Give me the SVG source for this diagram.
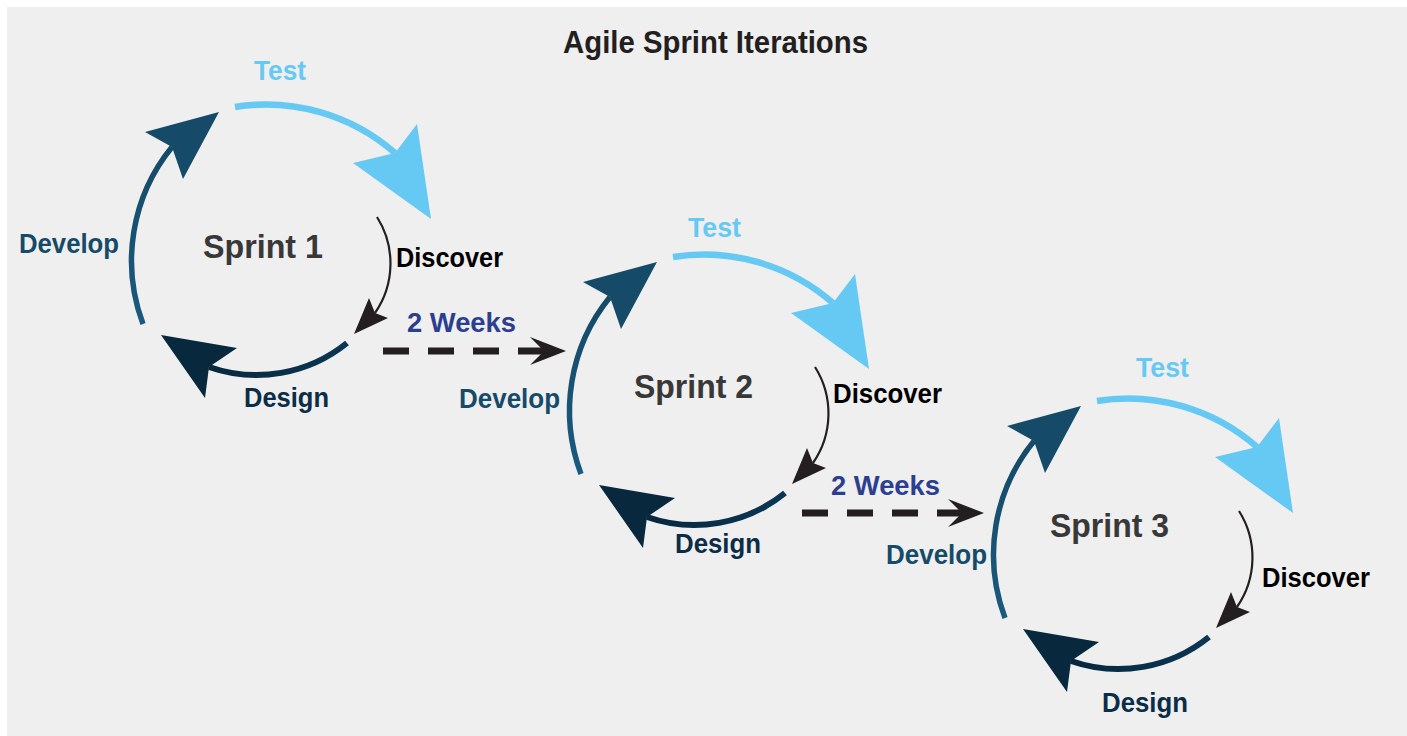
<svg xmlns="http://www.w3.org/2000/svg" xmlns:xlink="http://www.w3.org/1999/xlink" width="1407" height="736" viewBox="0 0 1407 736">
<style>
  text { font-family: "Liberation Sans", Arial, sans-serif; font-weight: bold; }
  .title { font-size: 32px; fill: #231f20; }
  .sprint { font-size: 33px; fill: #383838; }
  .lbl { font-size: 27.5px; }
  .t-test { fill: #66c9f3; }
  .t-dev { fill: #154a68; }
  .t-des { fill: #0b2d47; }
  .t-disc { fill: #000000; }
  .t-weeks { fill: #2b3e90; }
  .arc { fill: none; stroke-linecap: butt; }
  .dash { fill: none; stroke: #231f20; stroke-width: 7; stroke-dasharray: 26 19; }
  .head { fill: #231f20; }
</style>
<defs>
  <linearGradient id="gDev" gradientUnits="userSpaceOnUse" x1="0" y1="324" x2="0" y2="147">
    <stop offset="0" stop-color="#1a5a7e"/>
    <stop offset="1" stop-color="#154a68"/>
  </linearGradient>
  <linearGradient id="gDes" gradientUnits="userSpaceOnUse" x1="347" y1="0" x2="209" y2="0">
    <stop offset="0" stop-color="#0b3654"/>
    <stop offset="1" stop-color="#07283d"/>
  </linearGradient>
  <g id="cycle">
    <path class="arc" d="M235 107 A196 196 0 0 1 395 153" stroke="#66c9f3" stroke-width="6.5"/>
    <polygon points="417,124 431,219 353,163 395,153" fill="#66c9f3"/>
    <path class="arc" d="M143 324 A180 180 0 0 1 172 147" stroke="url(#gDev)" stroke-width="5.5"/>
    <polygon points="145,132 219,112 183,179 172,147" fill="#154a68"/>
    <path class="arc" d="M347 343 A144 144 0 0 1 209 367" stroke="url(#gDes)" stroke-width="6"/>
    <polygon points="161,335 237,348 209,367 205,398" fill="#07283d"/>
    <path class="arc" d="M377 217 A87 87 0 0 1 375 313" stroke="#231f20" stroke-width="2.2"/>
    <polygon points="369,298 375,313 388,318 354,334" fill="#231f20"/>
  </g>
</defs>
<rect x="0" y="0" width="1407" height="736" fill="#ffffff"/>
<rect x="7" y="7" width="1400" height="729" fill="#efefef"/>
<text class="title" x="563" y="53" textLength="305" lengthAdjust="spacingAndGlyphs">Agile Sprint Iterations</text>

<g id="sprint1">
  <use xlink:href="#cycle" href="#cycle"/>
  <text class="sprint" x="203" y="258" textLength="120" lengthAdjust="spacingAndGlyphs">Sprint 1</text>
  <text class="lbl t-test" x="254" y="80" textLength="52" lengthAdjust="spacingAndGlyphs">Test</text>
  <text class="lbl t-dev" x="19" y="253" textLength="100" lengthAdjust="spacingAndGlyphs">Develop</text>
  <text class="lbl t-disc" x="396" y="267" textLength="107" lengthAdjust="spacingAndGlyphs">Discover</text>
  <text class="lbl t-des" x="244" y="407" textLength="85" lengthAdjust="spacingAndGlyphs">Design</text>
</g>

<g id="sprint2">
  <use xlink:href="#cycle" href="#cycle" transform="translate(438,150)"/>
  <text class="sprint" x="634" y="398" textLength="119" lengthAdjust="spacingAndGlyphs">Sprint 2</text>
  <text class="lbl t-test" x="688" y="237" textLength="53" lengthAdjust="spacingAndGlyphs">Test</text>
  <text class="lbl t-dev" x="459" y="408" textLength="101" lengthAdjust="spacingAndGlyphs">Develop</text>
  <text class="lbl t-disc" x="833" y="403" textLength="109" lengthAdjust="spacingAndGlyphs">Discover</text>
  <text class="lbl t-des" x="675" y="553" textLength="86" lengthAdjust="spacingAndGlyphs">Design</text>
</g>

<g id="sprint3">
  <use xlink:href="#cycle" href="#cycle" transform="translate(862,294)"/>
  <text class="sprint" x="1050" y="537" textLength="119" lengthAdjust="spacingAndGlyphs">Sprint 3</text>
  <text class="lbl t-test" x="1136" y="377" textLength="53" lengthAdjust="spacingAndGlyphs">Test</text>
  <text class="lbl t-dev" x="886" y="564" textLength="101" lengthAdjust="spacingAndGlyphs">Develop</text>
  <text class="lbl t-disc" x="1262" y="587" textLength="108" lengthAdjust="spacingAndGlyphs">Discover</text>
  <text class="lbl t-des" x="1102" y="712" textLength="86" lengthAdjust="spacingAndGlyphs">Design</text>
</g>

<g id="connectors">
  <g id="link1">
    <line class="dash" x1="383" y1="351" x2="546" y2="351"/>
    <polygon class="head" points="530,337 566,351 530,365 544,351"/>
    <text class="lbl t-weeks" x="407" y="332" textLength="109" lengthAdjust="spacingAndGlyphs">2 Weeks</text>
  </g>
  <g id="link2">
    <line class="dash" x1="802" y1="513" x2="964" y2="513"/>
    <polygon class="head" points="948,499 984,513 948,527 962,513"/>
    <text class="lbl t-weeks" x="831" y="495" textLength="109" lengthAdjust="spacingAndGlyphs">2 Weeks</text>
  </g>
</g>
</svg>
